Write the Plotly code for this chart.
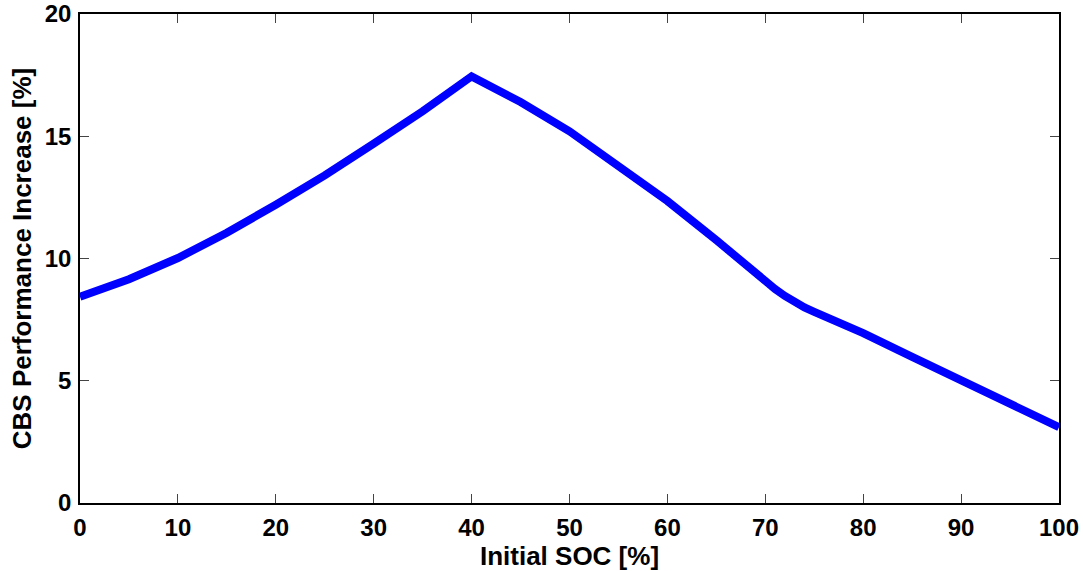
import plotly.graph_objects as go

soc = [0, 5, 10, 15, 20, 25, 30, 35, 40, 45, 50, 55, 60, 65, 68, 70, 71, 72, 73, 74, 75, 76, 77, 78, 80,
       85, 90, 95, 100]
increase = [8.44, 9.15, 10.02, 11.05, 12.2, 13.4, 14.7, 16.02, 17.45, 16.4, 15.2, 13.8, 12.35, 10.75, 9.7,
            9.05, 8.75, 8.47, 8.22, 8.0, 7.82, 7.65, 7.48, 7.3, 6.95, 5.98, 5.05, 4.1, 3.1]

x_ticks = [0, 10, 20, 30, 40, 50, 60, 70, 80, 90, 100]
y_ticks = [0, 5, 10, 15, 20]

fig = go.Figure()
fig.add_trace(go.Scatter(x=soc, y=increase, mode="lines",
                         line=dict(color="#0000ff", width=8, shape="linear"),
                         showlegend=False, hoverinfo="skip"))

fam = "Liberation Sans, Arial, Helvetica, sans-serif"
axis_common = dict(showgrid=False, zeroline=False, showline=True, linecolor="black", linewidth=1.5,
                   mirror="ticks", ticks="inside", ticklen=9, tickcolor="#444", tickwidth=1,
                   automargin=False,
                   tickfont=dict(family=fam, size=24, color="black"))

fig.update_layout(
    width=1083, height=571,
    margin=dict(l=80, r=24, t=14, b=68),
    paper_bgcolor="white", plot_bgcolor="white",
    font=dict(family=fam, size=24, color="black"),
    xaxis=dict(range=[0, 100], tickvals=x_ticks, ticktext=[f"<b>{v}</b>" for v in x_ticks],
               ticklabelstandoff=2,
               title=dict(text="<b>Initial SOC [%]</b>", font=dict(size=26), standoff=0), **axis_common),
    yaxis=dict(range=[0, 20], tickvals=y_ticks, ticktext=[f"<b>{v}</b>" for v in y_ticks],
               ticklabelstandoff=2,
               title=dict(text="<b>CBS Performance Increase [%]</b>", font=dict(size=26), standoff=6), **axis_common),
)

fig.write_html("out.html")
